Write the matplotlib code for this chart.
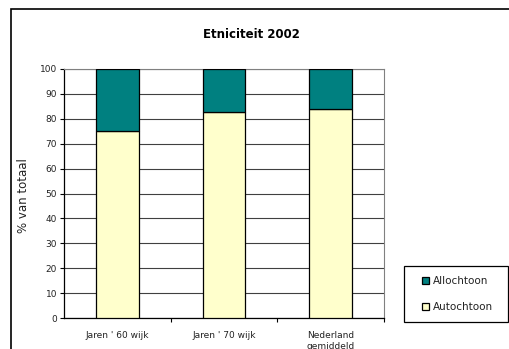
import matplotlib.pyplot as plt
from matplotlib.patches import Rectangle

categories = ["Jaren ' 60 wijk", "Jaren ' 70 wijk", "Nederland\ngemiddeld"]
autochtoon = [75.2, 82.6, 84.1]
allochtoon = [24.8, 17.4, 15.9]
yticks = [0, 10, 20, 30, 40, 50, 60, 70, 80, 90, 100]

plt.rcParams["font.family"] = ["DejaVu Sans"]

W, H = 509, 349
fig = plt.figure(figsize=(W / 100, H / 100), dpi=100)


def px_rect(x0, y0, x1, y1, **kw):
    """Rectangle given in pixel coords from the top-left corner."""
    return Rectangle((x0 / W, 1 - y1 / H), (x1 - x0) / W, (y1 - y0) / H,
                     transform=fig.transFigure, fill=False, **kw)


# outer chart frame (runs off the right and bottom edges)
fig.patches.append(px_rect(11, 9, 600, 400, edgecolor="black", linewidth=1.2))

ax = fig.add_axes([64 / W, 1 - 318 / H, (384 - 64) / W, (318 - 69) / H])

x = range(len(categories))
ax.bar(x, autochtoon, width=0.4, color="#FFFFCC", edgecolor="black",
       linewidth=0.9, label="Autochtoon", zorder=3)
ax.bar(x, allochtoon, width=0.4, bottom=autochtoon, color="#008080",
       edgecolor="black", linewidth=0.9, label="Allochtoon", zorder=3)

ax.set_xlim(-0.5, len(categories) - 0.5)
ax.set_ylim(0, 100)
ax.set_yticks(yticks)
ax.tick_params(axis="y", labelsize=6.5, length=3, width=0.8, pad=2,
               labelcolor="#222222")
ax.set_xticks(x)
ax.set_xticklabels(categories, fontsize=6.5, linespacing=1.3,
                   color="#222222")
ax.set_xticks([0.5, 1.5, 2.5], minor=True)
ax.tick_params(axis="x", which="major", length=0, pad=9)
ax.tick_params(axis="x", which="minor", length=3, width=0.8)

ax.grid(axis="y", color="#404040", linewidth=0.8, zorder=0)
for side in ("top", "right"):
    ax.spines[side].set_color("#808080")
    ax.spines[side].set_linewidth(0.8)
for side in ("left", "bottom"):
    ax.spines[side].set_linewidth(0.9)

ax.set_ylabel("% van totaal", fontsize=8.5, va="center", color="#222222")
ax.yaxis.set_label_coords(-0.128, 0.49)

fig.text(251 / W, 1 - 34 / H, "Etniciteit 2002", ha="center", va="center",
         fontsize=8.5, fontweight="bold")

# legend box drawn separately so it can be wider than its entries
fig.patches.append(px_rect(404, 266, 508, 322, edgecolor="black",
                           linewidth=0.9))
handles, labels = ax.get_legend_handles_labels()
leg = fig.legend(handles[::-1], labels[::-1], loc="upper left",
                 bbox_to_anchor=(422 / W, 1 - 276 / H), fontsize=7.5,
                 frameon=False, handlelength=0.7, handleheight=0.7,
                 handletextpad=0.35, labelspacing=1.55, borderpad=0,
                 borderaxespad=0)
for t in leg.get_texts():
    t.set_color("#222222")

fig.savefig("out.png", dpi=100)
